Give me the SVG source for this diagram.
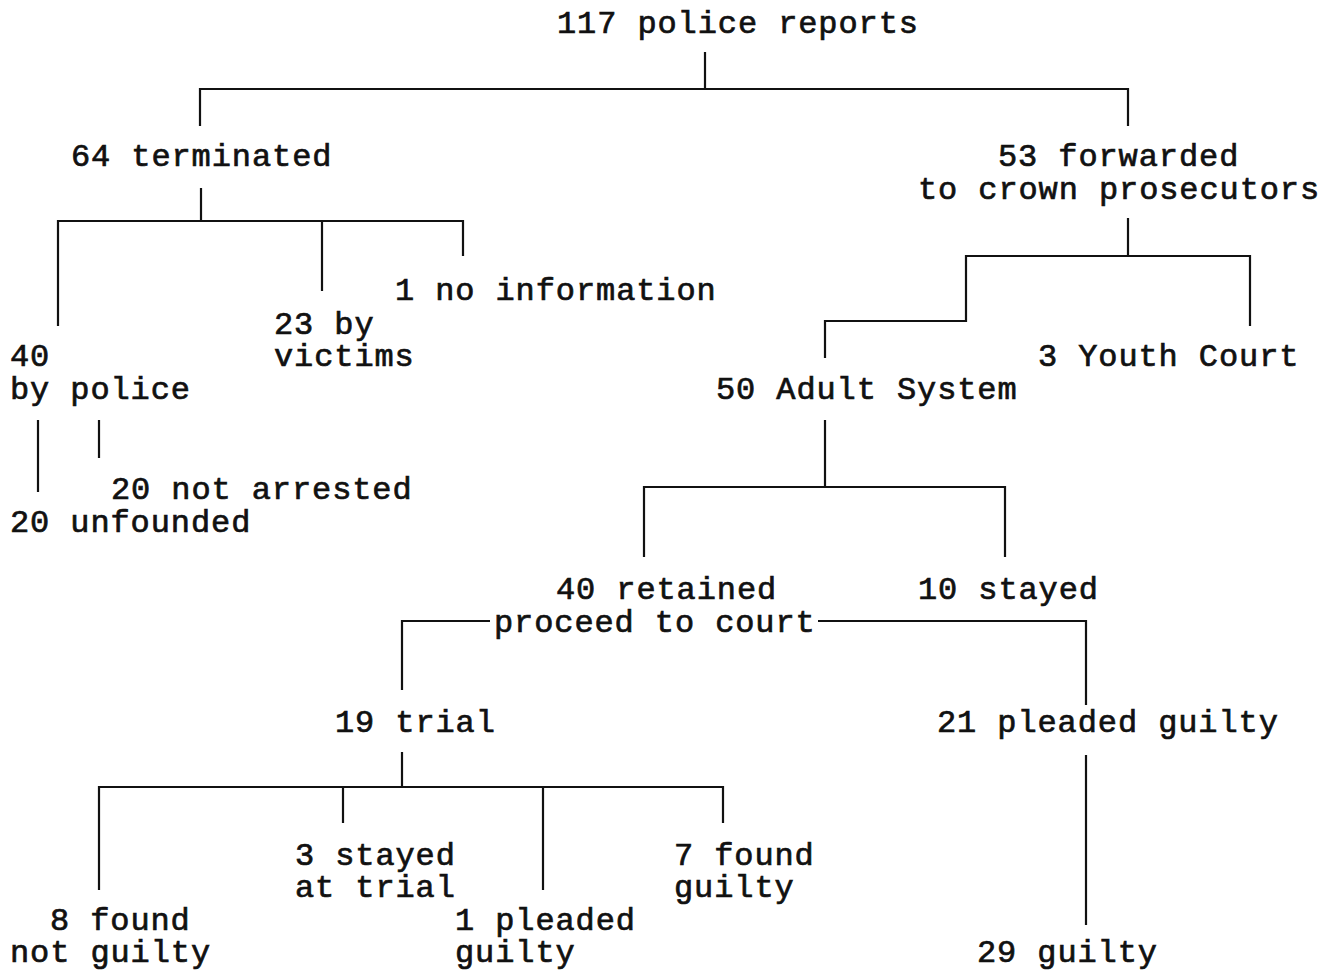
<svg xmlns="http://www.w3.org/2000/svg" width="1332" height="970" viewBox="0 0 1332 970">
<style>
text{font-family:"Liberation Mono","Courier New",monospace;font-size:32px;letter-spacing:0.9px;fill:#111;stroke:#111;stroke-width:0.7px}
.c line,.c polyline{stroke:#111;stroke-width:2.2;fill:none}
</style>
<rect width="1332" height="970" fill="#fff"/>
<g class="c" id="connectors">
<line x1="705" y1="52" x2="705" y2="89"/>
<polyline points="200,126 200,89 1128,89 1128,126"/>
<line x1="201" y1="188" x2="201" y2="221"/>
<polyline points="58,326 58,221 463,221 463,256"/>
<line x1="322" y1="221" x2="322" y2="291"/>
<line x1="1128" y1="218" x2="1128" y2="256"/>
<polyline points="1250,326 1250,256 966,256 966,321 825,321 825,358"/>
<line x1="38" y1="420" x2="38" y2="492"/>
<line x1="99" y1="420" x2="99" y2="458"/>
<line x1="825" y1="420" x2="825" y2="487"/>
<polyline points="644,557 644,487 1005,487 1005,557"/>
<polyline points="402,690 402,621 490,621"/>
<polyline points="818,621 1086,621 1086,705"/>
<line x1="1086" y1="755" x2="1086" y2="925"/>
<line x1="402" y1="752" x2="402" y2="787"/>
<polyline points="99,890 99,787 723,787 723,823"/>
<line x1="343" y1="787" x2="343" y2="823"/>
<line x1="543" y1="787" x2="543" y2="890"/>
</g>
<g id="n-root"><text x="557" y="33">117 police reports</text></g>
<g id="n-terminated"><text x="71" y="166">64 terminated</text></g>
<g id="n-forwarded"><text x="998" y="166">53 forwarded</text><text x="918" y="199">to crown prosecutors</text></g>
<g id="n-noinfo"><text x="395" y="300">1 no information</text></g>
<g id="n-victims"><text x="274" y="334">23 by</text><text x="274" y="366">victims</text></g>
<g id="n-police"><text x="10" y="366">40</text><text x="10" y="399">by police</text></g>
<g id="n-youth"><text x="1038" y="366">3 Youth Court</text></g>
<g id="n-adult"><text x="716" y="399">50 Adult System</text></g>
<g id="n-notarrested"><text x="111" y="499">20 not arrested</text></g>
<g id="n-unfounded"><text x="10" y="532">20 unfounded</text></g>
<g id="n-retained"><text x="556" y="599">40 retained</text><text x="494" y="632">proceed to court</text></g>
<g id="n-stayed"><text x="918" y="599">10 stayed</text></g>
<g id="n-trial"><text x="335" y="732">19 trial</text></g>
<g id="n-pleaded21"><text x="937" y="732">21 pleaded guilty</text></g>
<g id="n-stayedtrial"><text x="295" y="865">3 stayed</text><text x="295" y="897">at trial</text></g>
<g id="n-foundguilty"><text x="674" y="865">7 found</text><text x="674" y="897">guilty</text></g>
<g id="n-notguilty"><text x="50" y="930">8 found</text><text x="10" y="962">not guilty</text></g>
<g id="n-pleaded1"><text x="455" y="930">1 pleaded</text><text x="455" y="962">guilty</text></g>
<g id="n-guilty29"><text x="977" y="962">29 guilty</text></g>
</svg>
